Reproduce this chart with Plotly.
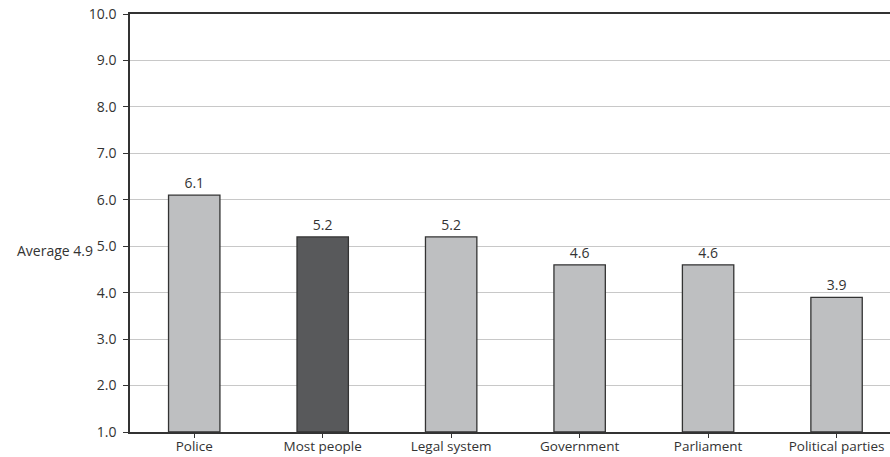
import plotly.graph_objects as go

categories = ["Police", "Most people", "Legal system", "Government", "Parliament", "Political parties"]
values = [6.1, 5.2, 5.2, 4.6, 4.6, 3.9]
average = 4.9
y_ticks = [1.0, 2.0, 3.0, 4.0, 5.0, 6.0, 7.0, 8.0, 9.0, 10.0]

light = "#bebfc1"
dark = "#58595b"
colors = [dark if c == "Most people" else light for c in categories]
font = "Open Sans, Noto Sans, sans-serif"
fsize = 14

fig = go.Figure(
    go.Bar(
        x=list(range(len(categories))),
        y=[v - 1.0 for v in values],
        base=1.0,
        width=0.4,
        marker=dict(color=colors, line=dict(color="#333333", width=1.3)),
        text=[f"{v:.1f}" for v in values],
        textposition="outside",
        textfont=dict(size=fsize, color="#333333", family=font),
        cliponaxis=False,
        hoverinfo="skip",
    )
)

fig.add_annotation(
    x=0, xref="paper", xanchor="right", xshift=-35,
    y=average, yref="y", yanchor="middle",
    text=f"Average {average}", showarrow=False,
    font=dict(size=fsize, color="#333333", family=font),
)

fig.update_layout(
    width=890, height=457,
    margin=dict(l=130, r=0, t=14, b=25),
    paper_bgcolor="white", plot_bgcolor="white",
    showlegend=False,
    font=dict(family=font, size=fsize, color="#333333"),
    uniformtext=dict(minsize=fsize, mode="show"),
)
fig.update_xaxes(
    range=[-0.5, 5.416],
    automargin=False,
    tickmode="array",
    tickvals=list(range(len(categories))),
    ticktext=categories,
    tickson="boundaries",
    ticks="outside", ticklen=4, tickcolor="#333333",
    ticklabelstandoff=-3,
    showline=True, linecolor="#333333", linewidth=1.5, mirror=True,
    showgrid=False, zeroline=False,
    tickfont=dict(size=13.5, color="#333333"),
)
fig.update_yaxes(
    range=[1.0, 10.0],
    automargin=False,
    tickmode="array",
    tickvals=y_ticks,
    ticktext=[f"{t:.1f}" for t in y_ticks],
    ticks="outside", ticklen=5, tickcolor="#333333",
    ticklabelstandoff=4,
    showline=True, linecolor="#333333", linewidth=1.5,
    showgrid=True, gridcolor="#c8c8c8", gridwidth=1,
    zeroline=False,
    tickfont=dict(size=fsize, color="#333333"),
)

fig.write_html("out.html")
